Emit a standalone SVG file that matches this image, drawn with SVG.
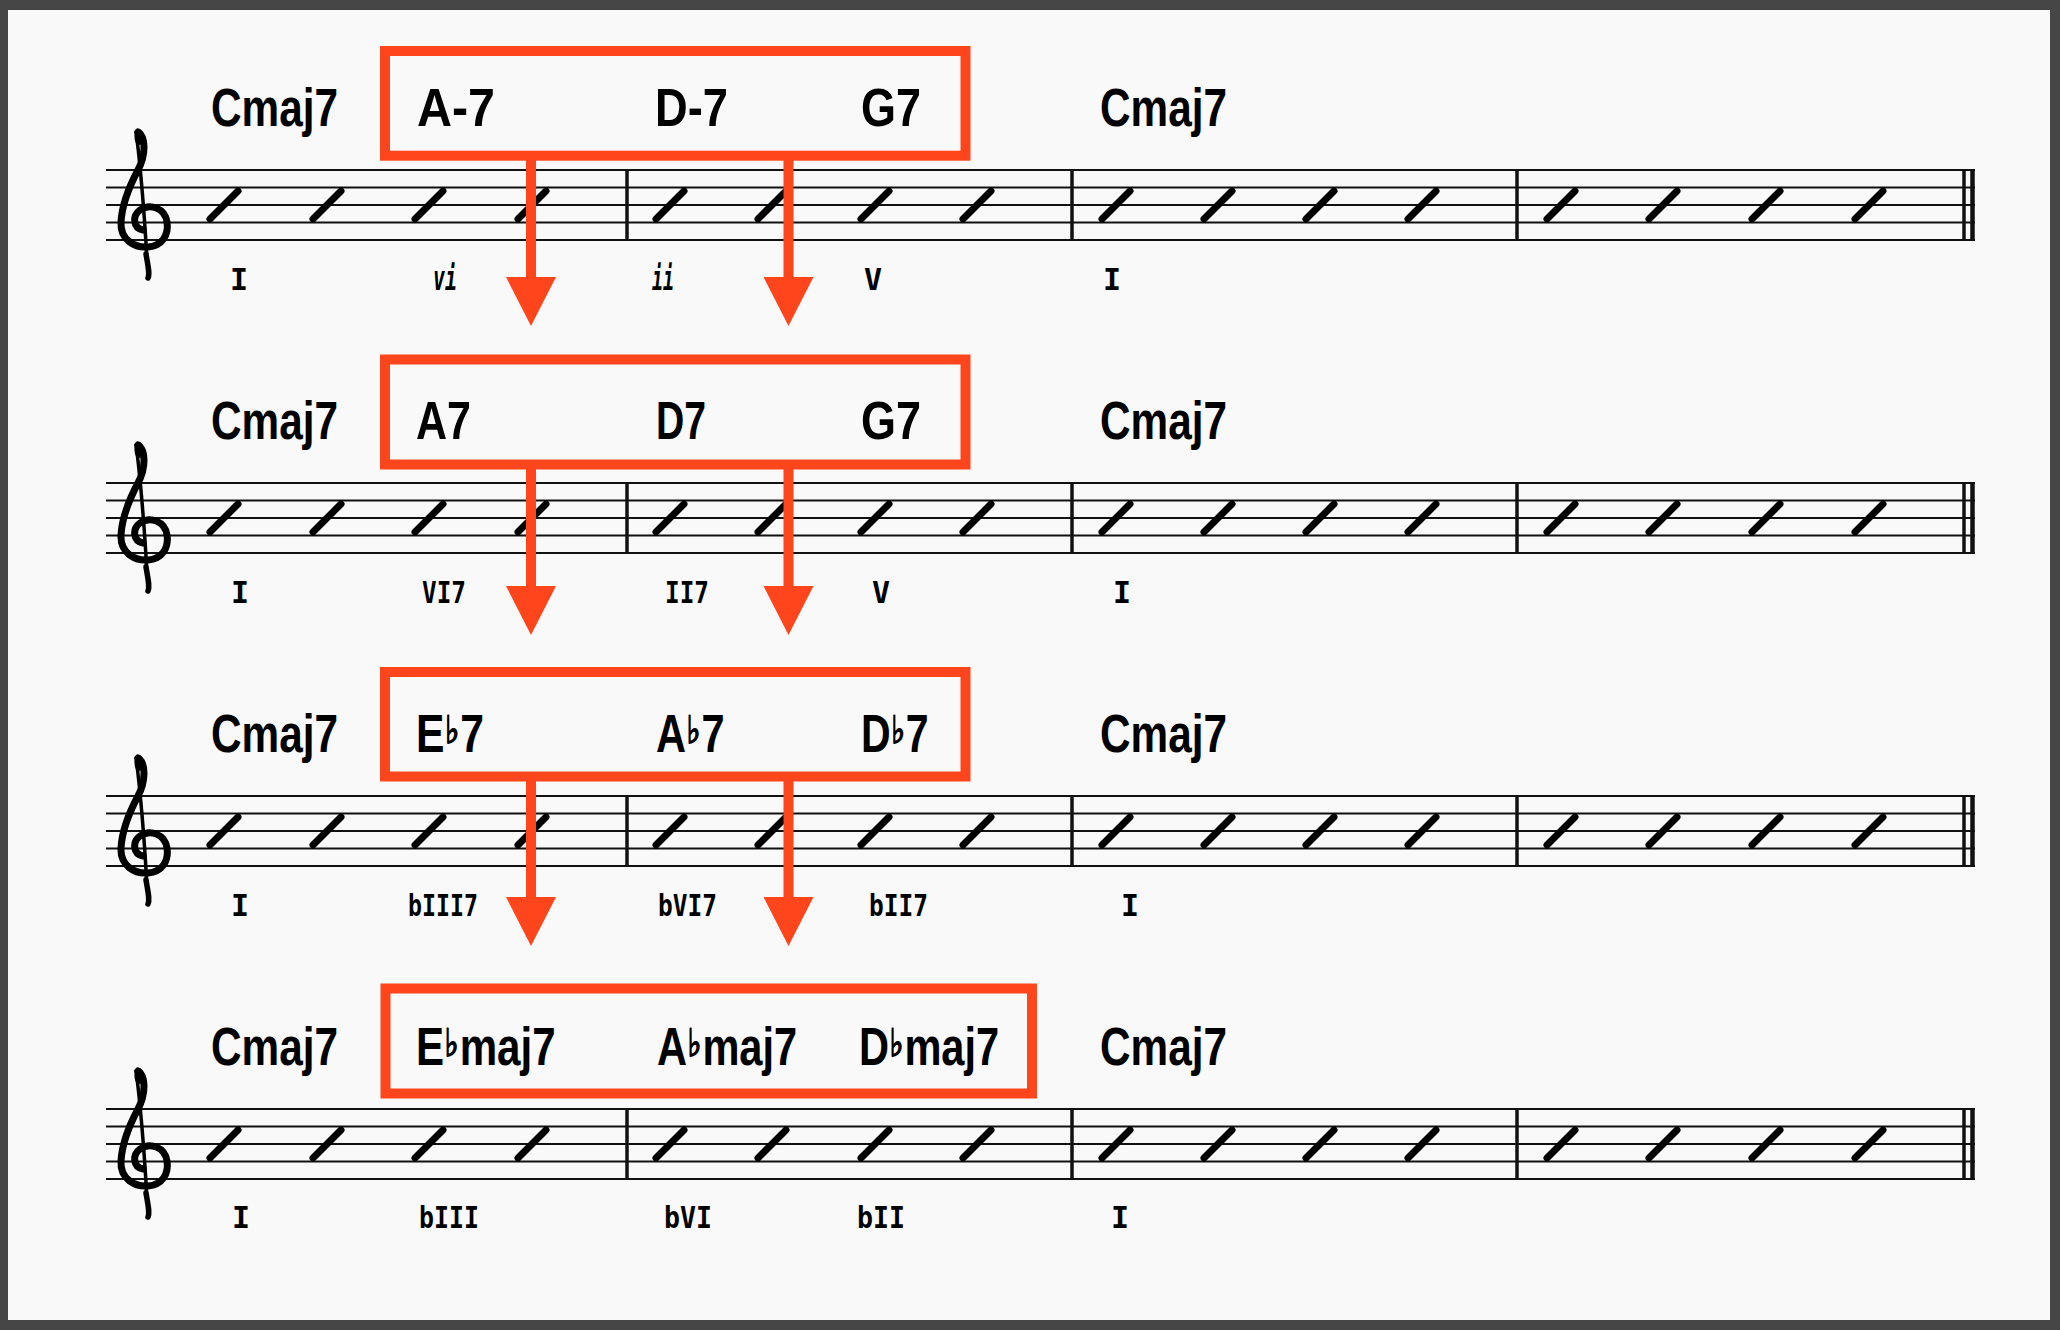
<svg xmlns="http://www.w3.org/2000/svg" xmlns:xlink="http://www.w3.org/1999/xlink" width="2060" height="1330" viewBox="0 0 2060 1330">
<style>
.staffline{stroke:#111;stroke-width:2}
.bar{stroke:#111;stroke-width:3.5}
.sl{stroke:#000;stroke-width:7;stroke-linecap:round}
.chord{font-family:"Liberation Sans","DejaVu Sans",sans-serif;font-weight:bold;font-size:54px;fill:#000}
.fl{font-family:"DejaVu Sans",sans-serif;font-size:38px;font-weight:bold;stroke:#000;stroke-width:1.6}
.num{font-family:"DejaVu Sans Mono","Liberation Mono",monospace;font-weight:bold;font-size:30px;fill:#000}
.lc{font-size:33px;font-style:italic}
.box{fill:none;stroke:#FF451C;stroke-width:10}
.shaft{stroke:#FF451C;stroke-width:10}
</style>
<defs>
<marker id="ah" markerUnits="userSpaceOnUse" viewBox="0 -25 49 50" refX="0" refY="0" markerWidth="49" markerHeight="50" orient="auto">
<path d="M0,-25 L49,0 L0,25 Z" fill="#FF451C"/>
</marker>
<line id="sl" class="sl" x1="-14" y1="14" x2="14" y2="-14"/>
<g id="clef" fill="none" stroke="#000" stroke-linecap="round">
<path stroke-width="7" d="M 138 -38 C 146 -33, 146 -15, 138 0 C 130 15, 122 35, 121 52 C 120 70, 135 78, 148 77 C 162 76, 169 65, 167 52 C 165 38, 150 33, 140 40 C 132 46, 133 58, 143 60"/>
<path stroke-width="3.5" d="M 136 -38 C 140 -10, 145 50, 147 92"/>
<path stroke-width="5.5" d="M 146 84 C 148 96, 150 104, 148 108"/>
<ellipse cx="139" cy="-33" rx="4.5" ry="8" fill="#000" stroke="none"/>
</g>
<g id="staff">
<line class="staffline" x1="106" y1="0" x2="1975" y2="0"/>
<line class="staffline" x1="106" y1="17.5" x2="1975" y2="17.5"/>
<line class="staffline" x1="106" y1="35" x2="1975" y2="35"/>
<line class="staffline" x1="106" y1="52.5" x2="1975" y2="52.5"/>
<line class="staffline" x1="106" y1="70" x2="1975" y2="70"/>
<line class="bar" x1="627" y1="0" x2="627" y2="70"/>
<line class="bar" x1="1072" y1="0" x2="1072" y2="70"/>
<line class="bar" x1="1517" y1="0" x2="1517" y2="70"/>
<line class="bar" x1="1964" y1="-1" x2="1964" y2="71"/>
<line stroke="#111" stroke-width="4.5" x1="1972.5" y1="-1" x2="1972.5" y2="71"/>
<use xlink:href="#clef"/>
<use xlink:href="#sl" x="224" y="35"/><use xlink:href="#sl" x="327" y="35"/><use xlink:href="#sl" x="429" y="35"/><use xlink:href="#sl" x="532" y="35"/>
<use xlink:href="#sl" x="670" y="35"/><use xlink:href="#sl" x="772" y="35"/><use xlink:href="#sl" x="875" y="35"/><use xlink:href="#sl" x="977" y="35"/>
<use xlink:href="#sl" x="1116" y="35"/><use xlink:href="#sl" x="1218" y="35"/><use xlink:href="#sl" x="1320" y="35"/><use xlink:href="#sl" x="1422" y="35"/>
<use xlink:href="#sl" x="1561" y="35"/><use xlink:href="#sl" x="1663" y="35"/><use xlink:href="#sl" x="1766" y="35"/><use xlink:href="#sl" x="1869" y="35"/>
</g>
</defs>
<rect x="0" y="0" width="2060" height="1330" fill="#464646"/>
<rect x="8" y="10" width="2042" height="1310" fill="#F9F9F9"/>

<g id="row1">
<use xlink:href="#staff" transform="translate(0,170)"/>
<g id="row1-chords">
<text class="chord" x="211" y="126" textLength="127" lengthAdjust="spacingAndGlyphs">Cmaj7</text>
<text class="chord" x="417" y="126" textLength="78" lengthAdjust="spacingAndGlyphs">A-7</text>
<text class="chord" x="655" y="126" textLength="73" lengthAdjust="spacingAndGlyphs">D-7</text>
<text class="chord" x="861" y="126" textLength="60" lengthAdjust="spacingAndGlyphs">G7</text>
<text class="chord" x="1100" y="126" textLength="127" lengthAdjust="spacingAndGlyphs">Cmaj7</text>
</g>
<g id="row1-numerals">
<text class="num" x="230" y="290">I</text>
<text class="num lc" x="433" y="290" textLength="24" lengthAdjust="spacingAndGlyphs">vi</text>
<text class="num lc" x="652" y="290" textLength="22" lengthAdjust="spacingAndGlyphs">ii</text>
<text class="num" x="864" y="290">V</text>
<text class="num" x="1103" y="290">I</text>
</g>
</g>
<g id="box1"><rect class="box" x="385" y="51" width="580.5" height="104.7"/></g>

<g id="row2">
<use xlink:href="#staff" transform="translate(0,483)"/>
<g id="row2-chords">
<text class="chord" x="211" y="439" textLength="127" lengthAdjust="spacingAndGlyphs">Cmaj7</text>
<text class="chord" x="416" y="439" textLength="55" lengthAdjust="spacingAndGlyphs">A7</text>
<text class="chord" x="656" y="439" textLength="50" lengthAdjust="spacingAndGlyphs">D7</text>
<text class="chord" x="861" y="439" textLength="60" lengthAdjust="spacingAndGlyphs">G7</text>
<text class="chord" x="1100" y="439" textLength="127" lengthAdjust="spacingAndGlyphs">Cmaj7</text>
</g>
<g id="row2-numerals">
<text class="num" x="231" y="603">I</text>
<text class="num" x="422" y="603" textLength="44" lengthAdjust="spacingAndGlyphs">VI7</text>
<text class="num" x="665" y="603" textLength="44" lengthAdjust="spacingAndGlyphs">II7</text>
<text class="num" x="872" y="603">V</text>
<text class="num" x="1113" y="603">I</text>
</g>
</g>
<g id="box2"><rect class="box" x="385" y="359.5" width="580.5" height="105"/></g>

<g id="row3">
<use xlink:href="#staff" transform="translate(0,796)"/>
<g id="row3-chords">
<text class="chord" x="211" y="752" textLength="127" lengthAdjust="spacingAndGlyphs">Cmaj7</text>
<text class="chord" transform="translate(416,752) scale(0.79,1)">E<tspan class="fl" dx="1" dy="-9">♭</tspan><tspan dx="1" dy="9">7</tspan></text>
<text class="chord" transform="translate(656,752) scale(0.77,1)">A<tspan class="fl" dx="1" dy="-9">♭</tspan><tspan dx="1" dy="9">7</tspan></text>
<text class="chord" transform="translate(861,752) scale(0.76,1)">D<tspan class="fl" dx="1" dy="-9">♭</tspan><tspan dx="1" dy="9">7</tspan></text>
<text class="chord" x="1100" y="752" textLength="127" lengthAdjust="spacingAndGlyphs">Cmaj7</text>
</g>
<g id="row3-numerals">
<text class="num" x="231" y="916">I</text>
<text class="num" x="408" y="916" textLength="70" lengthAdjust="spacingAndGlyphs">bIII7</text>
<text class="num" x="658" y="916" textLength="59" lengthAdjust="spacingAndGlyphs">bVI7</text>
<text class="num" x="869" y="916" textLength="59" lengthAdjust="spacingAndGlyphs">bII7</text>
<text class="num" x="1121" y="916">I</text>
</g>
</g>
<g id="box3"><rect class="box" x="385" y="672" width="580.5" height="104.5"/></g>

<g id="row4">
<use xlink:href="#staff" transform="translate(0,1109)"/>
<g id="row4-chords">
<text class="chord" x="211" y="1065" textLength="127" lengthAdjust="spacingAndGlyphs">Cmaj7</text>
<text class="chord" transform="translate(416,1065) scale(0.78,1)">E<tspan class="fl" dx="1" dy="-9">♭</tspan><tspan dx="1" dy="9">maj7</tspan></text>
<text class="chord" transform="translate(657,1065) scale(0.77,1)">A<tspan class="fl" dx="1" dy="-9">♭</tspan><tspan dx="1" dy="9">maj7</tspan></text>
<text class="chord" transform="translate(859,1065) scale(0.77,1)">D<tspan class="fl" dx="1" dy="-9">♭</tspan><tspan dx="1" dy="9">maj7</tspan></text>
<text class="chord" x="1100" y="1065" textLength="127" lengthAdjust="spacingAndGlyphs">Cmaj7</text>
</g>
<g id="row4-numerals">
<text class="num" x="232" y="1228">I</text>
<text class="num" x="419" y="1228" textLength="60" lengthAdjust="spacingAndGlyphs">bIII</text>
<text class="num" x="664" y="1228" textLength="48" lengthAdjust="spacingAndGlyphs">bVI</text>
<text class="num" x="857" y="1228" textLength="48" lengthAdjust="spacingAndGlyphs">bII</text>
<text class="num" x="1111" y="1228">I</text>
</g>
</g>
<g id="box4"><rect class="box" x="385.5" y="988.5" width="646.5" height="105"/></g>

<g id="connectors">
<line class="shaft" x1="531" y1="155" x2="531" y2="277" marker-end="url(#ah)"/>
<line class="shaft" x1="788.5" y1="155" x2="788.5" y2="277" marker-end="url(#ah)"/>
<line class="shaft" x1="531" y1="464" x2="531" y2="586" marker-end="url(#ah)"/>
<line class="shaft" x1="788.5" y1="464" x2="788.5" y2="586" marker-end="url(#ah)"/>
<line class="shaft" x1="531" y1="776" x2="531" y2="897" marker-end="url(#ah)"/>
<line class="shaft" x1="788.5" y1="776" x2="788.5" y2="897" marker-end="url(#ah)"/>
</g>
</svg>
